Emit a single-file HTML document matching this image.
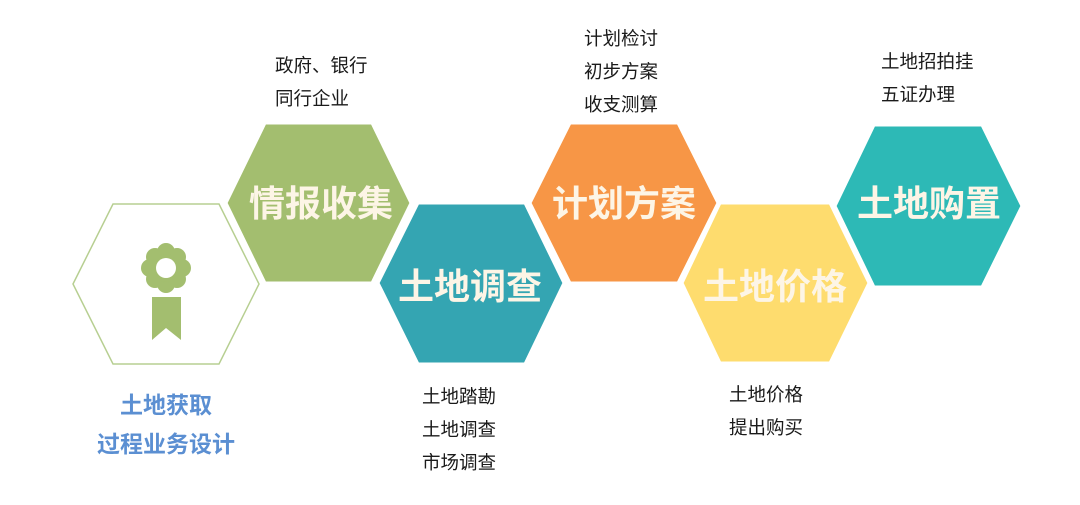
<!DOCTYPE html>
<html><head><meta charset="utf-8"><style>
body{margin:0;width:1080px;height:505px;background:#fff;overflow:hidden;position:relative;font-family:"Liberation Sans","Noto Sans CJK SC",sans-serif}
.t{position:absolute;font-size:18.5px;color:#1a1a1a;line-height:33px;white-space:nowrap}
.b{position:absolute;font-size:23px;font-weight:bold;color:#5b8fd2;white-space:nowrap;text-align:center;width:200px}
svg{position:absolute;left:0;top:0}
</style></head><body>
<svg width="1080" height="505" font-family="Liberation Sans, Noto Sans CJK SC, sans-serif">
<polygon points="73,284 113,204 219,204 259,284 219,364 113,364" fill="#fff" stroke="#b7cf92" stroke-width="1.5"/>
<polygon points="226,203 265,123 372,123 411,203 372,283 265,283" fill="#a3be6f" stroke="#fff" stroke-width="3"/>
<polygon points="378,283 418,203 525,203 564,283 525,364 418,364" fill="#34a5b2" stroke="#fff" stroke-width="3"/>
<polygon points="530,203 570,123 678,123 718,203 678,283 570,283" fill="#f79646" stroke="#fff" stroke-width="3"/>
<polygon points="682,283 720,203 830,203 869,283 830,363 720,363" fill="#fedc6e" stroke="#fff" stroke-width="3"/>
<polygon points="835,206 874,125 982,125 1022,206 982,287 874,287" fill="#2db9b6" stroke="#fff" stroke-width="3"/>
<g fill="#fdf5e6" font-size="36" font-weight="bold" text-anchor="middle">
<text x="321" y="216">情报收集</text>
<text x="470" y="299">土地调查</text>
<text x="624" y="216">计划方案</text>
<text x="775" y="299">土地价格</text>
<text x="929" y="216">土地购置</text>
</g>
<g fill="#a3be6f">
<circle cx="166" cy="252" r="9"/><circle cx="166" cy="284" r="9"/>
<circle cx="150" cy="268" r="9"/><circle cx="182" cy="268" r="9"/>
<circle cx="155" cy="257" r="9"/><circle cx="177" cy="257" r="9"/>
<circle cx="155" cy="279" r="9"/><circle cx="177" cy="279" r="9"/>
<circle cx="166" cy="268" r="14"/>
<polygon points="152,297 181,297 181,340 166,328 152,340"/>
</g>
<circle cx="166" cy="268" r="10" fill="#fff"/>
</svg>
<div class="t" style="left:275px;top:49px">政府、银行<br>同行企业</div>
<div class="t" style="left:584px;top:22px">计划检讨<br>初步方案<br>收支测算</div>
<div class="t" style="left:881px;top:45px">土地招拍挂<br>五证办理</div>
<div class="t" style="left:422px;top:380px">土地踏勘<br>土地调查<br>市场调查</div>
<div class="t" style="left:729px;top:378px">土地价格<br>提出购买</div>
<div class="b" style="left:66px;top:386px">土地获取</div>
<div class="b" style="left:66px;top:425px">过程业务设计</div>
</body></html>
